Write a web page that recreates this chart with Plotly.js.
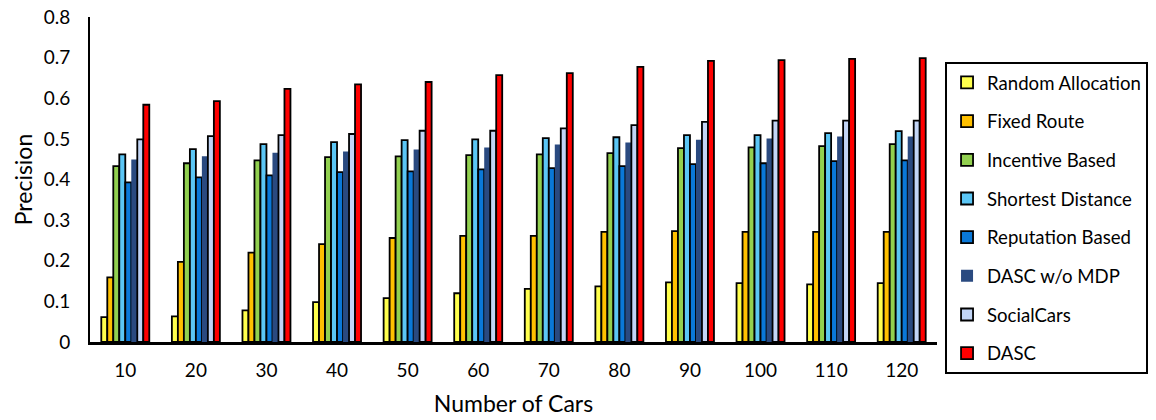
<!DOCTYPE html>
<html>
<head>
<meta charset="utf-8">
<script src="https://cdn.plot.ly/plotly-3.0.1.min.js"></script>
<style>html,body{margin:0;padding:0;background:#fff;}#chart{width:1156px;height:420px;}</style>
</head>
<body>
<div id="chart"></div>
<script>
const cars = ['10','20','30','40','50','60','70','80','90','100','110','120'];
const seriesNames = ['Random Allocation','Fixed Route','Incentive Based','Shortest Distance','Reputation Based','DASC w/o MDP','SocialCars','DASC'];
const randomAllocation = [0.061,0.063,0.078,0.098,0.108,0.120,0.131,0.137,0.147,0.145,0.142,0.145];
const fixedRoute       = [0.159,0.197,0.220,0.241,0.256,0.261,0.261,0.271,0.273,0.271,0.271,0.271];
const incentiveBased   = [0.433,0.440,0.447,0.455,0.457,0.460,0.462,0.465,0.477,0.479,0.482,0.487];
const shortestDistance = [0.462,0.475,0.487,0.492,0.497,0.499,0.502,0.504,0.509,0.509,0.514,0.519];
const reputationBased  = [0.393,0.405,0.410,0.418,0.420,0.425,0.428,0.433,0.438,0.440,0.445,0.447];
const dascNoMdp        = [0.449,0.457,0.466,0.469,0.474,0.479,0.486,0.491,0.498,0.501,0.506,0.506];
const socialCars       = [0.499,0.507,0.509,0.512,0.520,0.520,0.526,0.534,0.542,0.545,0.545,0.545];
const dasc             = [0.584,0.593,0.623,0.634,0.640,0.657,0.662,0.677,0.692,0.694,0.697,0.699];
const yTicks = [0,0.1,0.2,0.3,0.4,0.5,0.6,0.7,0.8];
const yTickText = ['0','0.1','0.2','0.3','0.4','0.5','0.6','0.7','0.8'];

const allValues = [randomAllocation,fixedRoute,incentiveBased,shortestDistance,reputationBased,dascNoMdp,socialCars,dasc];
const colors = ['#FFFF4D','#FFC000','#92D050','#5BC6F5','#0A78D8','#2A4A80','#C2D5F6','#FF0000'];
const lineW = [1.8,1.8,1.8,1.8,1.8,0,1.8,1.8];

const traces = allValues.map((v,i)=>({
  type:'bar', name:seriesNames[i], x:cars, y:v,
  legendgroup:'g'+i,
  marker:{color:colors[i], line:{color:'#000', width:lineW[i]}}
}));

const font = 'Lato, "Open Sans", sans-serif';
const layout = {
  width:1156, height:420,
  margin:{l:90, r:219, t:17, b:78, autoexpand:false},
  paper_bgcolor:'#fff', plot_bgcolor:'#fff',
  barmode:'group', bargap:0.32, bargroupgap:0,
  font:{family:font, color:'#000', size:19},
  showlegend:true,
  legend:{x:1.0095, y:0.862, xanchor:'left', yanchor:'top',
    bordercolor:'#000', borderwidth:2, bgcolor:'#fff',
    font:{family:font, size:18.6, color:'#000'},
    tracegroupgap:11.5, itemwidth:30},
  xaxis:{type:'category', showline:true, linecolor:'#000', linewidth:2.5,
    ticks:'', showgrid:false, zeroline:false, ticklabelstandoff:10,
    tickfont:{family:font, size:19, color:'#000'},
    title:{text:'Number of Cars', font:{family:font, size:23, color:'#000'}, standoff:16}},
  yaxis:{range:[0,0.8], showline:true, linecolor:'#000', linewidth:2,
    ticks:'', showgrid:false, zeroline:false, ticklabelstandoff:14,
    tickvals:yTicks, ticktext:yTickText,
    tickfont:{family:font, size:19, color:'#000'},
    title:{text:'Precision', font:{family:font, size:23, color:'#000'}, standoff:5}}
};
Plotly.newPlot('chart', traces, layout, {displayModeBar:false, staticPlot:true});
</script>
</body>
</html>
